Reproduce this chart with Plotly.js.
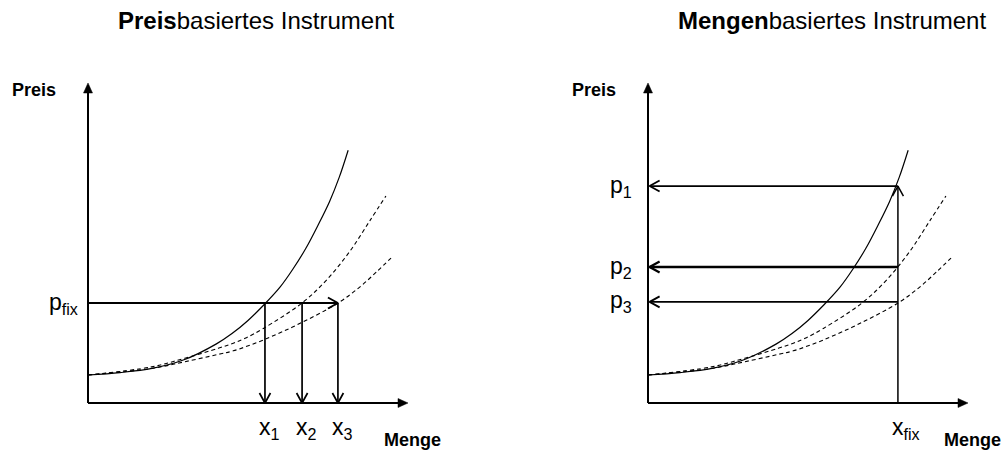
<!DOCTYPE html>
<html>
<head>
<meta charset="utf-8">
<script src="https://cdn.plot.ly/plotly-3.0.1.min.js"></script>
<style>html,body{margin:0;padding:0;background:#fff;}#chart{width:1006px;height:450px;}</style>
</head>
<body>
<div id="chart"></div>
<script>
// ---- data ----
const panelTitles = ['<b>Preis</b>basiertes Instrument', '<b>Mengen</b>basiertes Instrument'];
const axisLabelY = 'Preis';
const axisLabelX = 'Menge';

// original (solid) supply / cost curve
const solidX = [0, 1, 2, 3, 4, 4.5, 5, 5.5, 6, 6.4, 6.8, 7.2, 7.55, 7.85, 8.13];
const solidY = [0.875, 0.95, 1.08, 1.35, 1.84, 2.17, 2.58, 3.07, 3.62, 4.18, 4.82, 5.58, 6.3, 7.05, 7.9];
// shifted (dashed) curve 1
const dash1X = [0, 1.99, 3.03, 4.07, 4.54, 4.91, 5.48, 6.68, 7.46, 8.19, 8.81, 9.31];
const dash1Y = [0.875, 1.13, 1.40, 1.71, 1.87, 2.02, 2.33, 3.12, 3.85, 4.75, 5.7, 6.47];
// shifted (dashed) curve 2
const dash2X = [0, 1.99, 3.03, 4.07, 4.54, 5.48, 6.63, 7.82, 8.5, 9.02, 9.47];
const dash2Y = [0.875, 1.08, 1.29, 1.52, 1.63, 1.97, 2.49, 3.13, 3.63, 4.10, 4.53];

// price instrument: fixed price, resulting quantities
const pFix = 3.125;
const pFixLabel = 'p<sub>fix</sub>';
const xResponses = [5.53, 6.69, 7.81];
const xResponseLabels = ['x<sub>1</sub>', 'x<sub>2</sub>', 'x<sub>3</sub>'];

// quantity instrument: fixed quantity, resulting prices
const xFix = 7.81;
const xFixLabel = 'x<sub>fix</sub>';
const pResponses = [6.78, 4.25, 3.16];
const pResponseLabels = ['p<sub>1</sub>', 'p<sub>2</sub>', 'p<sub>3</sub>'];

const axisLength = 10;

// ---- drawing ----
const FONT = 'Arial, "Liberation Sans", Helvetica, sans-serif';
const PX = 1 / 32; // one screen pixel in axis units (both axes use 32 px per unit)
const traces = [];
const annotations = [];

function curves(xa, ya) {
  traces.push({x: solidX, y: solidY, xaxis: xa, yaxis: ya, mode: 'lines',
    line: {color: '#000', width: 1.2, shape: 'spline', smoothing: 1}, hoverinfo: 'skip'});
  traces.push({x: dash1X, y: dash1Y, xaxis: xa, yaxis: ya, mode: 'lines',
    line: {color: '#000', width: 1.1, dash: '4px,3px', shape: 'spline', smoothing: 1}, hoverinfo: 'skip'});
  traces.push({x: dash2X, y: dash2Y, xaxis: xa, yaxis: ya, mode: 'lines',
    line: {color: '#000', width: 1.1, dash: '4px,3px', shape: 'spline', smoothing: 1}, hoverinfo: 'skip'});
}

// open (V-shaped) arrow from (x0,y0) to (x1,y1)
function openArrow(xa, ya, x0, y0, x1, y1, width) {
  const dx = x1 - x0, dy = y1 - y0, len = Math.hypot(dx, dy);
  const ux = dx / len, uy = dy / len, nx = -uy, ny = ux;
  const L = 10 * PX, H = 5.5 * PX;
  const bx = x1 - L * ux, by = y1 - L * uy;
  traces.push({x: [x0, x1, null, bx + H * nx, x1, bx - H * nx],
               y: [y0, y1, null, by + H * ny, y1, by - H * ny],
               xaxis: xa, yaxis: ya, mode: 'lines', hoverinfo: 'skip',
               line: {color: '#000', width: width}});
}

// axis with filled triangular head
function axisArrow(xa, ya, x1, y1) {
  const len = Math.hypot(x1, y1), ux = x1 / len, uy = y1 / len, nx = -uy, ny = ux;
  const L = 10 * PX, H = 4.5 * PX;
  const bx = x1 - L * ux, by = y1 - L * uy;
  traces.push({x: [0, bx + 1 * PX * ux], y: [0, by + 1 * PX * uy], xaxis: xa, yaxis: ya,
               mode: 'lines', hoverinfo: 'skip', line: {color: '#000', width: 2}});
  traces.push({x: [x1, bx + H * nx, bx - H * nx, x1], y: [y1, by + H * ny, by - H * ny, y1],
               xaxis: xa, yaxis: ya, mode: 'lines', fill: 'toself', fillcolor: '#000',
               hoverinfo: 'skip', line: {color: '#000', width: 0.5}});
}

function label(xa, ya, x, y, text, size, xanchor) {
  annotations.push({xref: xa, yref: ya, x: x, y: y, text: text, showarrow: false,
    xanchor: xanchor || 'center', yanchor: 'middle',
    font: {family: FONT, size: size, color: '#000'}});
}

function axesFor(xa, ya) {
  axisArrow(xa, ya, axisLength, 0);
  axisArrow(xa, ya, 0, axisLength);
  label(xa, ya, -1.68, 9.78, '<b>' + axisLabelY + '</b>', 18);
  label(xa, ya, 10.15, -1.15, '<b>' + axisLabelX + '</b>', 18);
}

// left panel
curves('x', 'y');
axesFor('x', 'y');
openArrow('x', 'y', 0, pFix, xResponses[2], pFix, 1.9);
xResponses.forEach(function (xr, i) {
  openArrow('x', 'y', xr, pFix, xr, 0, 1.7);
  label('x', 'y', xr + 0.15, -0.8, xResponseLabels[i], 23);
});
label('x', 'y', -0.25, pFix, pFixLabel, 23, 'right');
label('x', 'y', 5.25, 11.95, panelTitles[0], 24);

// right panel
curves('x2', 'y2');
axesFor('x2', 'y2');
openArrow('x2', 'y2', xFix, 0, xFix, pResponses[0], 1.5);
pResponses.forEach(function (pr, i) {
  openArrow('x2', 'y2', xFix, pr, 0.05, pr, i === 1 ? 2.3 : 1.8);
  label('x2', 'y2', -0.45, pr, pResponseLabels[i], 23, 'right');
});
label('x2', 'y2', xFix + 0.25, -0.8, xFixLabel, 23);
label('x2', 'y2', 5.75, 11.95, panelTitles[1], 24);

const xr = [-2.75, 11.1875];
const yr = [-1.46875, 12.59375];
const layout = {
  width: 1006, height: 450,
  margin: {l: 0, r: 0, t: 0, b: 0},
  paper_bgcolor: '#fff', plot_bgcolor: 'rgba(0,0,0,0)',
  showlegend: false,
  xaxis: {domain: [0, 446 / 1006], range: xr, visible: false, fixedrange: true},
  yaxis: {domain: [0, 1], range: yr, visible: false, fixedrange: true},
  xaxis2: {domain: [560 / 1006, 1], range: xr, visible: false, fixedrange: true, anchor: 'y2'},
  yaxis2: {domain: [0, 1], range: yr, visible: false, fixedrange: true, anchor: 'x2'},
  annotations: annotations,
  font: {family: FONT}
};

Plotly.newPlot('chart', traces, layout, {displayModeBar: false, staticPlot: true});
</script>
</body>
</html>
